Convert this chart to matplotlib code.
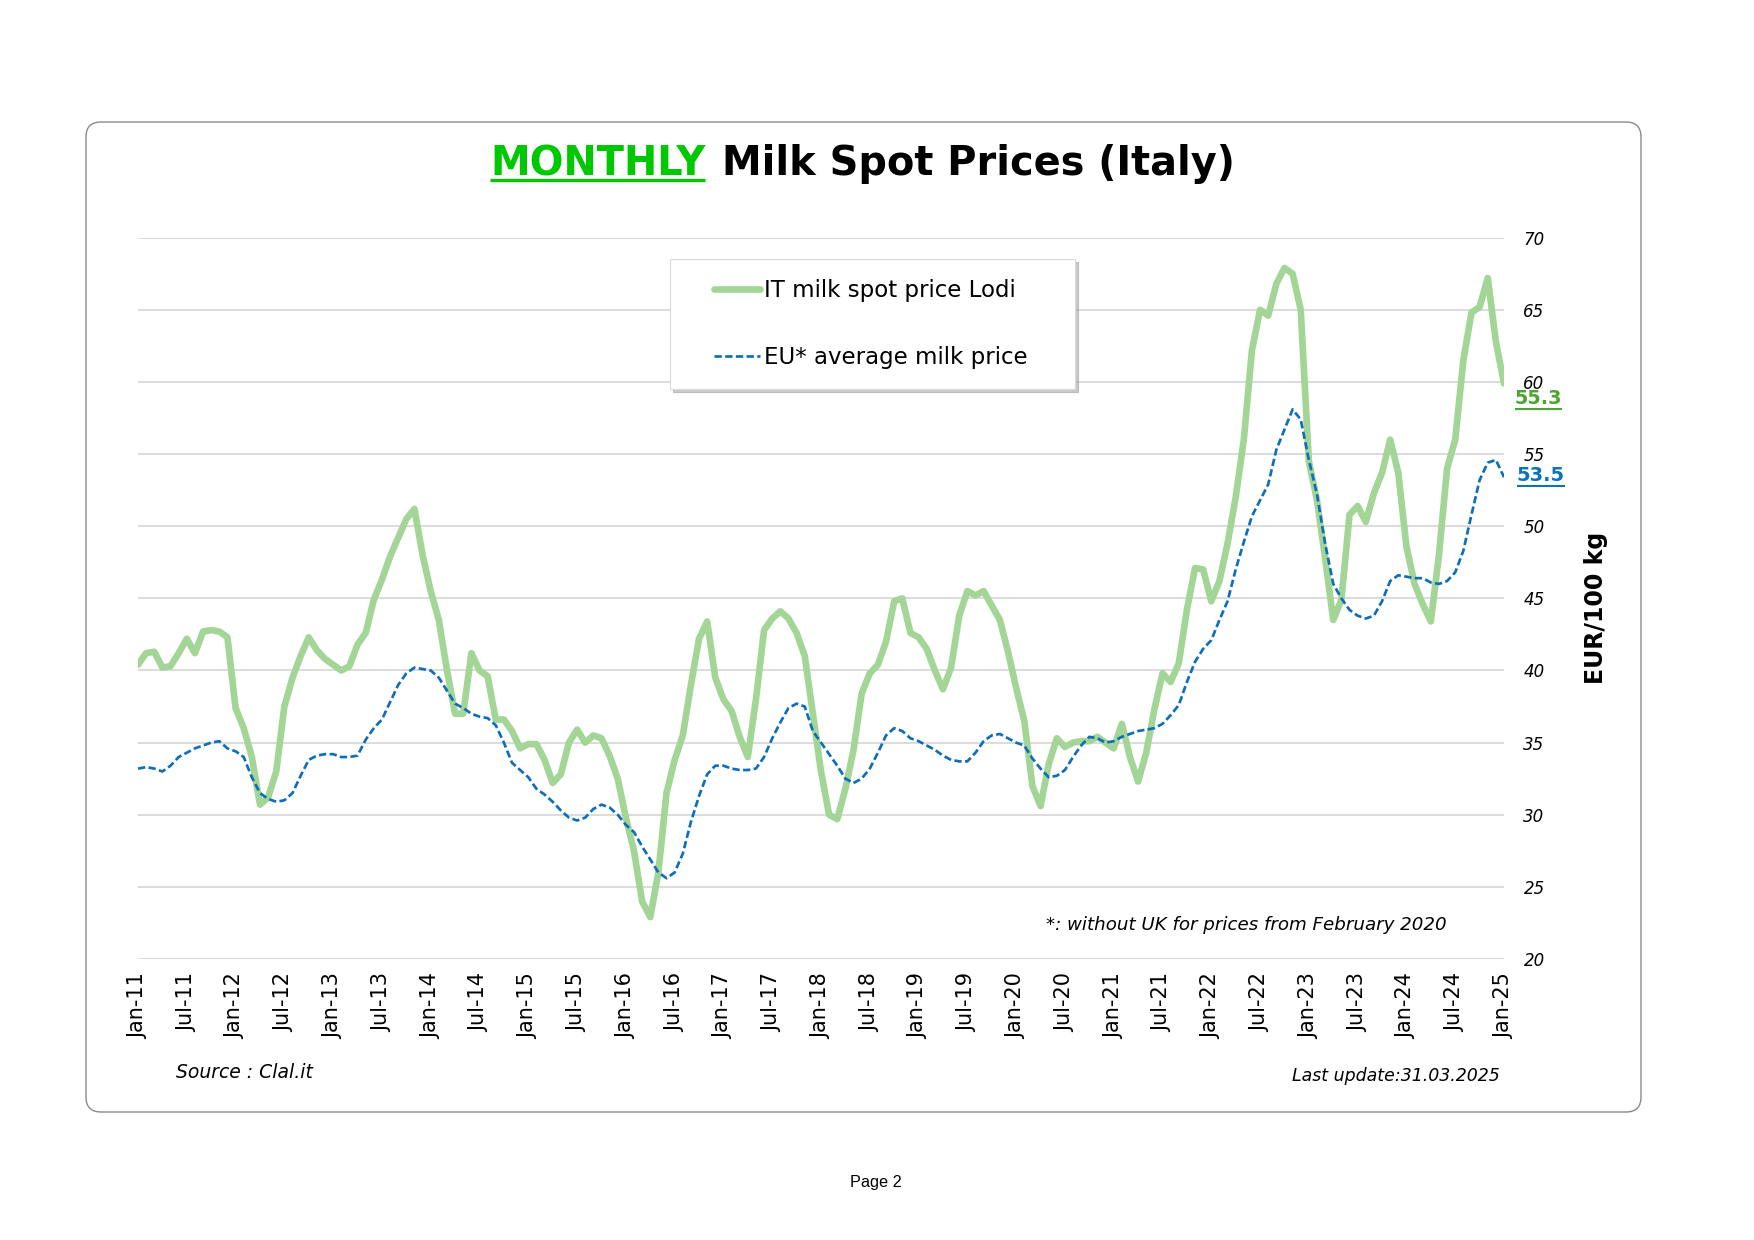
import numpy as np
import matplotlib
matplotlib.use("Agg")
import matplotlib.pyplot as plt
from matplotlib.patches import FancyBboxPatch
from matplotlib.lines import Line2D
from matplotlib.legend_handler import HandlerLine2D
from matplotlib.transforms import IdentityTransform

plt.rcParams['font.family'] = ['DejaVu Sans']

# ---------------- data ----------------
tick_labels = ['Jan-11', 'Jul-11', 'Jan-12', 'Jul-12', 'Jan-13', 'Jul-13', 'Jan-14', 'Jul-14',
               'Jan-15', 'Jul-15', 'Jan-16', 'Jul-16', 'Jan-17', 'Jul-17', 'Jan-18', 'Jul-18',
               'Jan-19', 'Jul-19', 'Jan-20', 'Jul-20', 'Jan-21', 'Jul-21', 'Jan-22', 'Jul-22',
               'Jan-23', 'Jul-23', 'Jan-24', 'Jul-24', 'Jan-25']
y_ticks = [20, 25, 30, 35, 40, 45, 50, 55, 60, 65, 70]

# monthly values Jan-11 ... Jan-25
it_lodi = [40.4, 41.2, 41.3, 40.2, 40.3, 41.2, 42.2, 41.2, 42.7, 42.8,
           42.7, 42.3, 37.4, 36.0, 34.0, 30.7, 31.2, 33.0, 37.5, 39.5,
           41.0, 42.3, 41.4, 40.8, 40.4, 40.0, 40.3, 41.8, 42.6, 44.9,
           46.3, 47.9, 49.2, 50.5, 51.2, 48.0, 45.5, 43.5, 40.0, 37.0,
           37.0, 41.2, 40.0, 39.6, 36.6, 36.6, 35.8, 34.6, 34.9, 34.9,
           33.8, 32.2, 32.8, 35.0, 35.9, 35.0, 35.5, 35.3, 34.1, 32.5,
           29.8, 27.5, 24.0, 22.9, 26.0, 31.5, 33.8, 35.5, 39.0, 42.2,
           43.4, 39.5, 38.0, 37.2, 35.4, 34.0, 38.0, 42.8, 43.6, 44.1,
           43.6, 42.6, 41.0, 37.0, 33.0, 30.0, 29.7, 31.8, 34.5, 38.4,
           39.8, 40.4, 42.0, 44.8, 45.0, 42.6, 42.3, 41.5, 40.0, 38.7,
           40.2, 43.8, 45.5, 45.2, 45.5, 44.5, 43.5, 41.3, 38.8, 36.5,
           32.0, 30.6, 33.5, 35.3, 34.7, 35.0, 35.1, 35.1, 35.4, 35.0,
           34.6, 36.3, 34.0, 32.3, 34.3, 37.3, 39.8, 39.2, 40.5, 44.2,
           47.1, 47.0, 44.8, 46.2, 48.8, 52.0, 56.0, 62.2, 65.0, 64.6,
           66.8, 67.9, 67.5, 65.0, 54.5, 51.8, 47.8, 43.5, 44.9, 50.8,
           51.4, 50.3, 52.3, 53.7, 56.0, 53.7, 48.6, 46.0, 44.6, 43.4,
           48.0, 54.0, 56.0, 61.5, 64.8, 65.2, 67.2, 62.8, 59.9]

eu_avg = [33.2, 33.3, 33.2, 33.0, 33.4, 34.0, 34.3, 34.6, 34.8, 35.0,
          35.1, 34.6, 34.4, 34.0, 32.6, 31.5, 31.1, 30.9, 31.0, 31.5,
          32.7, 33.8, 34.1, 34.2, 34.2, 34.0, 34.0, 34.1, 35.2, 36.0,
          36.6, 37.8, 39.0, 39.8, 40.2, 40.1, 40.0, 39.5, 38.6, 37.7,
          37.4, 37.0, 36.8, 36.7, 36.2, 35.0, 33.6, 33.1, 32.6, 31.8,
          31.4, 30.9, 30.3, 29.8, 29.6, 29.8, 30.4, 30.7, 30.5, 30.0,
          29.3, 28.8, 27.8, 26.9, 26.0, 25.6, 26.0, 27.3, 29.5, 31.3,
          32.8, 33.4, 33.4, 33.2, 33.1, 33.1, 33.2, 34.0, 35.3, 36.4,
          37.4, 37.7, 37.5, 35.8, 35.0, 34.2, 33.4, 32.5, 32.2, 32.5,
          33.2, 34.3, 35.5, 36.0, 35.8, 35.3, 35.1, 34.8, 34.5, 34.1,
          33.8, 33.7, 33.7, 34.3, 35.1, 35.5, 35.6, 35.3, 35.0, 34.8,
          33.9, 33.2, 32.6, 32.7, 33.1, 34.0, 34.8, 35.4, 35.3, 35.0,
          35.1, 35.4, 35.6, 35.8, 35.9, 36.0, 36.3, 36.9, 37.6, 39.2,
          40.6, 41.5, 42.1, 43.5, 44.8, 47.0, 48.9, 50.7, 51.8, 52.9,
          55.3, 56.7, 58.1, 57.4, 54.6, 52.2, 48.8, 46.0, 45.0, 44.2,
          43.8, 43.6, 43.8, 44.8, 46.2, 46.6, 46.5, 46.4, 46.4, 46.1,
          46.0, 46.2, 46.8, 48.3, 50.8, 53.2, 54.4, 54.6, 53.4]

series_names = ['IT milk spot price Lodi', 'EU* average milk price']
last_it = '55.3'
last_eu = '53.5'

# ---------------- figure ----------------
W, H = 1754, 1240
fig = plt.figure(figsize=(W / 100, H / 100), dpi=100)
fig.patch.set_facecolor('white')
r = fig.canvas.get_renderer()


def fx(px):
    return px / W


def fy(py):
    return 1 - py / H


# rounded outer frame (pixel coordinates)
frame = FancyBboxPatch((86, H - 1112), 1555, 990,
                       boxstyle='round,pad=0,rounding_size=15',
                       transform=IdentityTransform(),
                       facecolor='none', edgecolor='#8a8a8a', linewidth=1.0)
fig.add_artist(frame)

ax = fig.add_axes([fx(138), fy(959), fx(1504) - fx(138), fy(237.7) - fy(959)])
x = np.arange(len(it_lodi))

GREEN = '#A3D597'
BLUE = '#0F6EB9'
ax.plot(x, it_lodi, color=GREEN, lw=4.8, solid_joinstyle='round',
        solid_capstyle='round', label=series_names[0], zorder=3)
ax.plot(x, eu_avg, color=BLUE, lw=1.95, ls=(0, (2.7, 1.25)),
        dash_capstyle='butt', label=series_names[1], zorder=4)

ax.set_xlim(0, len(it_lodi) - 1)
ax.set_ylim(min(y_ticks), max(y_ticks))
ax.set_yticks(y_ticks)
ax.set_xticks(np.arange(0, len(it_lodi), 6))
ax.set_xticklabels(tick_labels, rotation=90)
ax.yaxis.tick_right()
ax.tick_params(axis='y', length=0, pad=14, labelsize=12)
ax.tick_params(axis='x', length=0, pad=10, labelsize=15)
for lab in ax.get_yticklabels():
    lab.set_fontstyle('italic')
for s in ax.spines.values():
    s.set_visible(False)
ax.yaxis.grid(True, color='#D9D9D9', lw=1.3)
ax.set_axisbelow(True)

ax.yaxis.set_label_position('right')
ax.set_ylabel('EUR/100 kg', fontsize=17, fontweight='bold')
ax.yaxis.set_label_coords((1596 - 138) / (1504 - 138), (959 - 608) / (959 - 237.7))
ax.yaxis.label.set_va('center')
ax.yaxis.label.set_ha('center')

# legend
fs = 16.5
fpx = fs * 100 / 72
leg = ax.legend(loc='upper left',
                bbox_to_anchor=(fx(670), fy(390), fx(1075) - fx(670), fy(259) - fy(390)),
                bbox_transform=fig.transFigure, borderaxespad=0, mode='expand',
                prop={'size': fs}, frameon=True, fancybox=False,
                shadow={'color': '#8c8c8c', 'alpha': 0.45},
                borderpad=20 / fpx, labelspacing=1.94,
                handlelength=70 / fpx, handletextpad=4 / fpx,
                handler_map={Line2D: HandlerLine2D(xpad=24 / fpx)})
leg.get_frame().set_edgecolor('#DADADA')
leg.get_frame().set_linewidth(0.8)
leg.get_frame().set_alpha(1)


# ---------------- texts ----------------
def fit(s, xp, yp, target_w, size, ha='left', va='center', **kw):
    t = fig.text(fx(xp), fy(yp), s, fontsize=size, ha=ha, va=va, **kw)
    w = t.get_window_extent(renderer=r).width
    t.set_fontsize(size * target_w / w)
    return t


def underline(t, yp, lw, color):
    bb = t.get_window_extent(renderer=r)
    fig.add_artist(Line2D([bb.x0, bb.x1], [H - yp, H - yp], lw=lw, color=color,
                          transform=IdentityTransform(), solid_capstyle='butt'))


# title
t1 = fig.text(0, fy(175), 'MONTHLY', fontsize=28, fontweight='bold',
              color='#00C800', ha='left', va='baseline')
t2 = fig.text(0, fy(175), 'Milk Spot Prices (Italy)', fontsize=28,
              fontweight='bold', color='black', ha='left', va='baseline')
gap = 16.6
w1 = t1.get_window_extent(renderer=r).width
w2 = t2.get_window_extent(renderer=r).width
s_t = 28 * (745 - gap) / (w1 + w2)
t1.set_fontsize(s_t)
t2.set_fontsize(s_t)
w1 = t1.get_window_extent(renderer=r).width
w2 = t2.get_window_extent(renderer=r).width
left = 862.5 - (w1 + gap + w2) / 2
t1.set_x(fx(left))
t2.set_x(fx(left + w1 + gap))
underline(t1, 179.5, 2.4, '#00C800')

# last values
tv1 = fit(last_it, 1538.4, 399, 47.4, 13.5, ha='center', fontweight='bold', color='#4CA52F')
underline(tv1, 408.5, 1.5, '#4CA52F')
tv2 = fit(last_eu, 1541, 475.5, 48, 13.5, ha='center', fontweight='bold', color='#0B72BD')
underline(tv2, 485.5, 1.5, '#0B72BD')

fit('*: without UK for prices from February 2020', 1046, 925, 402, 13.5, style='italic')
fit('Source : Clal.it', 176.5, 1073, 137, 13.5, style='italic')
fit('Last update:31.03.2025', 1292, 1076, 208, 13, style='italic')
fit('Page 2', 876, 1183, 51.7, 12.4, ha='center', family=['Liberation Sans', 'DejaVu Sans'])

fig.savefig('out.png', dpi=100, facecolor='white')
